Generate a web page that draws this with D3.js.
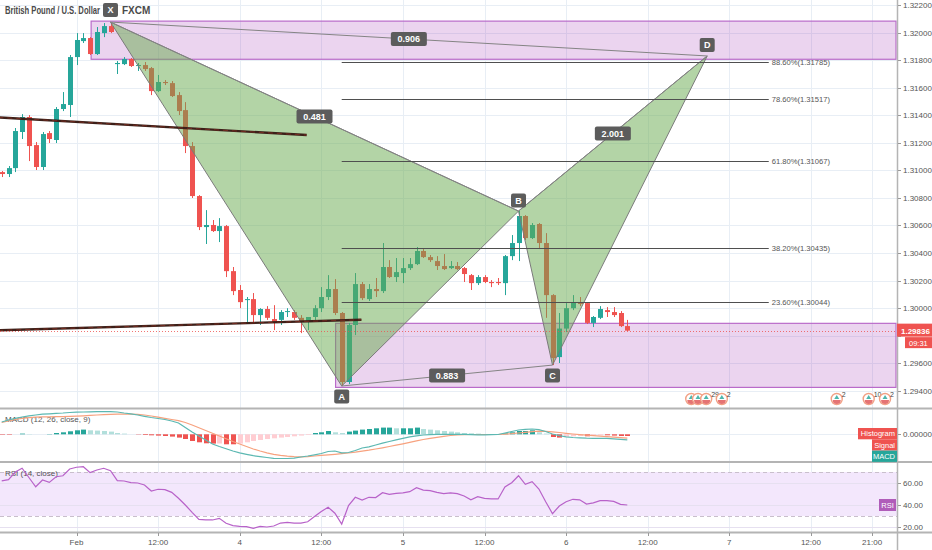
<!DOCTYPE html>
<html><head><meta charset="utf-8">
<script src="https://cdn.jsdelivr.net/npm/d3@7"></script>
<style>
html,body{margin:0;padding:0;background:#fff;}
svg{display:block;font-family:"Liberation Sans",Arial,sans-serif;}
</style></head><body>
<svg id="c" width="932" height="550"></svg>
<script>
// ---------------- DATA ----------------
const title = "British Pound / U.S. Dollar";
const source = "FXCM";
const firstHour = -11; // first candle, hours relative to Feb 3 00:00 (1h candles)
const opens = [1.30987,1.30973,1.31016,1.31278,1.31387,1.31183,1.31024,1.31270,1.31220,1.31445,
1.31474,1.31822,1.31938,1.31960,1.31844,1.31996,1.32047,1.31771,1.31771,1.31808,
1.31757,1.31764,1.31742,1.31575,1.31641,1.31633,1.31546,1.31437,1.31176,1.30813,
1.30588,1.30603,1.30559,1.30595,1.30268,1.30131,1.30058,1.30065,1.29949,1.29993,
1.29920,1.29914,1.29971,1.29971,1.29929,1.29899,1.29935,1.29999,1.30080,1.30138,
1.29964,1.29463,1.29877,1.30174,1.30065,1.30138,1.30123,1.30298,1.30225,1.30254,
1.30290,1.30319,1.30414,1.30370,1.30341,1.30305,1.30290,1.30305,1.30290,1.30239,
1.30181,1.30225,1.30189,1.30189,1.30181,1.30377,1.30472,1.30668,1.30508,1.30610,
1.30472,1.30094,1.29644,1.29851,1.29999,1.30043,1.30036,1.29892,1.29929,1.29985,
1.29971,1.29964,1.29869];
const highs = [1.30995,1.31031,1.31307,1.31408,1.31401,1.31205,1.31278,1.31285,1.31459,1.31568,
1.31837,1.31996,1.31996,1.31967,1.32040,1.32069,1.32076,1.31793,1.31822,1.31815,
1.31779,1.31786,1.31750,1.31692,1.31655,1.31648,1.31568,1.31495,1.31205,1.30820,
1.30711,1.30639,1.30653,1.30603,1.30298,1.30167,1.30080,1.30109,1.29999,1.30014,
1.30021,1.29985,1.29999,1.29985,1.29949,1.29935,1.30021,1.30152,1.30239,1.30210,
1.29971,1.29892,1.30254,1.30189,1.30174,1.30218,1.30472,1.30348,1.30363,1.30363,
1.30363,1.30443,1.30428,1.30385,1.30377,1.30392,1.30341,1.30334,1.30298,1.30247,
1.30239,1.30239,1.30203,1.30218,1.30385,1.30530,1.30704,1.30675,1.30617,1.30617,
1.30544,1.30101,1.29964,1.30036,1.30094,1.30080,1.30043,1.29942,1.30014,1.30007,
1.30007,1.29978,1.29914];
const lows = [1.30951,1.30951,1.30987,1.31227,1.31067,1.31002,1.31002,1.31198,1.31198,1.31430,
1.31387,1.31764,1.31924,1.31837,1.31837,1.31967,1.31996,1.31699,1.31764,1.31750,
1.31721,1.31721,1.31546,1.31568,1.31619,1.31532,1.31401,1.31125,1.30799,1.30566,
1.30465,1.30552,1.30479,1.30225,1.30094,1.29999,1.29892,1.29892,1.29877,1.29914,
1.29840,1.29877,1.29935,1.29914,1.29818,1.29840,1.29914,1.29971,1.30058,1.29949,
1.29434,1.29448,1.29804,1.30058,1.30051,1.30080,1.30109,1.30218,1.30189,1.30181,
1.30276,1.30312,1.30363,1.30334,1.30276,1.30276,1.30283,1.30276,1.30189,1.30131,
1.30167,1.30181,1.30152,1.30167,1.30094,1.30348,1.30341,1.30494,1.30501,1.30428,
1.29929,1.29586,1.29601,1.29826,1.29985,1.30014,1.29884,1.29862,1.29920,1.29935,
1.29935,1.29862,1.29833];
const closes = [1.30973,1.31016,1.31285,1.31387,1.31176,1.31024,1.31263,1.31227,1.31445,1.31481,
1.31822,1.31946,1.31960,1.31844,1.32004,1.32047,1.32004,1.31779,1.31808,1.31757,
1.31764,1.31735,1.31575,1.31641,1.31633,1.31539,1.31430,1.31176,1.30813,1.30588,
1.30603,1.30559,1.30595,1.30268,1.30123,1.30043,1.30065,1.29949,1.29993,1.29929,
1.29899,1.29971,1.29978,1.29929,1.29899,1.29935,1.29999,1.30080,1.30138,1.29964,
1.29463,1.29877,1.30174,1.30072,1.30138,1.30123,1.30298,1.30225,1.30261,1.30290,
1.30319,1.30414,1.30370,1.30348,1.30305,1.30283,1.30305,1.30283,1.30247,1.30181,
1.30225,1.30189,1.30181,1.30181,1.30377,1.30472,1.30668,1.30508,1.30603,1.30472,
1.30094,1.29637,1.29851,1.29999,1.30043,1.30029,1.29892,1.29935,1.29993,1.29971,
1.29949,1.29869,1.29836];

const macdLine = [0.00123,0.00143,0.00160,0.00173,0.00185,0.00193,0.00201,0.00205,0.00210,0.00213,
0.00218,0.00221,0.00223,0.00225,0.00226,0.00227,0.00227,0.00223,0.00213,0.00205,
0.00193,0.00180,0.00168,0.00158,0.00148,0.00133,0.00113,0.00068,0.00023,-0.00017,
-0.00057,-0.00097,-0.00122,-0.00145,-0.00167,-0.00185,-0.00200,-0.00214,-0.00223,-0.00232,
-0.00240,-0.00242,-0.00242,-0.00239,-0.00227,-0.00217,-0.00205,-0.00192,-0.00172,-0.00167,
-0.00185,-0.00182,-0.00162,-0.00137,-0.00125,-0.00107,-0.00089,-0.00072,-0.00055,-0.00040,
-0.00025,-0.00015,-0.00007,-0.00003,0.00000,0.00000,0.00000,0.00000,-0.00001,-0.00003,
-0.00005,-0.00005,-0.00004,-0.00002,0.00013,0.00028,0.00043,0.00050,0.00053,0.00046,
0.00028,0.00003,-0.00014,-0.00025,-0.00032,-0.00036,-0.00039,-0.00040,-0.00040,-0.00041,
-0.00045,-0.00050,-0.00055];
const signalLine = [0.00118,0.00135,0.00150,0.00160,0.00167,0.00171,0.00174,0.00175,0.00176,0.00177,
0.00179,0.00182,0.00185,0.00189,0.00193,0.00196,0.00199,0.00201,0.00202,0.00202,
0.00199,0.00193,0.00183,0.00171,0.00160,0.00148,0.00136,0.00118,0.00093,0.00065,
0.00038,0.00010,-0.00017,-0.00045,-0.00072,-0.00097,-0.00122,-0.00147,-0.00167,-0.00185,
-0.00200,-0.00211,-0.00219,-0.00224,-0.00225,-0.00223,-0.00217,-0.00211,-0.00205,-0.00200,
-0.00194,-0.00187,-0.00179,-0.00169,-0.00159,-0.00147,-0.00135,-0.00122,-0.00109,-0.00095,
-0.00080,-0.00065,-0.00052,-0.00040,-0.00030,-0.00020,-0.00012,-0.00007,-0.00003,-0.00002,
-0.00002,-0.00002,-0.00002,-0.00002,0.00001,0.00006,0.00013,0.00020,0.00027,0.00031,
0.00030,0.00025,0.00018,0.00010,0.00003,-0.00003,-0.00009,-0.00014,-0.00019,-0.00024,
-0.00029,-0.00034,-0.00039];
const histogram = [-0.00005,-0.00005,0.00000,0.00007,0.00003,0.00000,0.00000,0.00003,0.00013,0.00020,
0.00030,0.00040,0.00047,0.00040,0.00037,0.00033,0.00027,0.00013,0.00007,0.00000,
-0.00003,-0.00007,-0.00010,-0.00013,-0.00017,-0.00023,-0.00033,-0.00047,-0.00067,-0.00080,
-0.00090,-0.00093,-0.00092,-0.00100,-0.00100,-0.00093,-0.00080,-0.00067,-0.00057,-0.00047,
-0.00040,-0.00033,-0.00027,-0.00020,-0.00013,-0.00007,0.00013,0.00020,0.00033,0.00020,
0.00013,0.00027,0.00037,0.00047,0.00053,0.00060,0.00067,0.00067,0.00060,0.00060,
0.00060,0.00067,0.00053,0.00047,0.00040,0.00033,0.00027,0.00020,0.00013,0.00010,
0.00007,0.00003,0.00003,0.00000,0.00010,0.00020,0.00033,0.00033,0.00040,0.00020,
0.00007,-0.00027,-0.00033,-0.00023,-0.00020,-0.00017,-0.00020,-0.00013,-0.00010,-0.00010,
-0.00013,-0.00017,-0.00017];
const rsiValues = [62,63,70,73.4,65,56.6,62.7,60.6,65.7,66.6,
72.7,74.3,74.8,69.4,71.8,73.4,71.2,62.1,61.8,60.3,
60,58.2,52.7,54.3,54,51.5,46.1,40,33.3,27,
26.4,26.4,27.9,23.4,21.2,20.6,20.4,18.8,20.6,20,
20.9,23.6,24.2,23.5,23.5,24.8,29.5,34,38,32.5,
22.7,39.4,47,44.5,47,46.8,51.2,49.7,50.6,51,
52.1,55.7,53.6,53,51.5,50.3,51,50.3,48.2,44.8,
47.5,46.1,45.6,45.5,56.4,60.3,66.6,58.8,61.2,54.5,
43,32.1,39.1,43,45.2,44.7,40.9,42,43.9,43.9,
43.3,40.6,40];

const priceTicks = [1.322,1.320,1.318,1.316,1.314,1.312,1.310,1.308,1.306,1.304,1.302,1.300,1.298,1.296,1.294];
const timeTickHours = [0,12,24,36,48,60,72,84,96,108,117];
const timeTickLabels = ["Feb","12:00","4","12:00","5","12:00","6","12:00","7","12:00","21:00"];
const rsiTicks = [60,40,20];
const rsiBand = [70,30];

// XABCD harmonic pattern
const patternNames = ["X","A","B","C","D"];
const patternHours = [5,39,65,70,92.75];
const patternPrices = [1.32076,1.29434,1.30704,1.29586,1.31830];
const ratioPairs = [[0,2],[0,4],[1,3],[2,4]];
const ratioLabels = ["0.481","0.906","0.883","2.001"];
// Fibonacci retracement levels
const fibLevels = ["23.60%","38.20%","61.80%","78.60%","88.60%"];
const fibPrices = [1.30044,1.30435,1.31067,1.31517,1.31785];
const fibHours = [39,101.8];
// zones (rectangles, extended right)
const zoneStartHours = [2.15,38.1];
const zoneHighs = [1.32083,1.29889];
const zoneLows = [1.31806,1.29424];
// trend lines
const trendStartHours = [-11.5,-11.5];
const trendStartPrices = [1.31384,1.29838];
const trendEndHours = [33.85,41.9];
const trendEndPrices = [1.31256,1.29915];
const lastPrice = 1.29836;
const countdown = "09:31";
// economic event markers
const eventHours = [90.4,91.4,92.6,94.9,111.8,116.5,118.9];
const eventCounts = ["","","29","2","2","10","2"];

// ---------------- LAYOUT ----------------
const svg = d3.select("#c");
const axisX = 897;
const mainBottom = 408, macdTop = 409, macdBottom = 462, rsiTop = 463, rsiBottom = 532;
const x = d3.scaleLinear().domain([-11.25, 120.66]).range([0, axisX]);
const y = d3.scaleLinear().domain([1.294, 1.322]).range([390.7, 5]);
const ym = d3.scaleLinear().domain([-0.0025, 0.0025]).range([459.3, 409.3]);
const yr = d3.scaleLinear().domain([20, 70]).range([527, 472]);
const hourOf = i => firstHour + i;
const n = opens.length;
const idx = d3.range(n);

const defs = svg.append("defs");
function clip(id, y0, y1) {
  defs.append("clipPath").attr("id", id).append("rect")
    .attr("x", 0).attr("y", y0).attr("width", axisX).attr("height", y1 - y0);
}
clip("cm", 0, mainBottom); clip("cmacd", macdTop, macdBottom); clip("crsi", rsiTop, rsiBottom);

svg.append("rect").attr("width", 932).attr("height", 550).attr("fill", "#fff");

const gridC = "#e8eef5";
svg.append("g").selectAll("line").data(timeTickHours).join("line")
  .attr("x1", d => Math.round(x(d)) + 0.5).attr("x2", d => Math.round(x(d)) + 0.5)
  .attr("y1", 0).attr("y2", rsiBottom).attr("stroke", gridC);
svg.append("g").selectAll("line").data(priceTicks).join("line")
  .attr("x1", 0).attr("x2", axisX).attr("y1", d => Math.round(y(d)) + 0.5).attr("y2", d => Math.round(y(d)) + 0.5)
  .attr("stroke", gridC);

// ---------------- MAIN PANE ----------------
const gm = svg.append("g").attr("clip-path", "url(#cm)");
gm.selectAll("rect.zone").data(zoneStartHours).join("rect").attr("class", "zone")
  .attr("x", d => x(d)).attr("width", (d) => axisX - 1 - x(d))
  .attr("y", (d, i) => y(zoneHighs[i])).attr("height", (d, i) => y(zoneLows[i]) - y(zoneHighs[i]))
  .attr("fill", "rgba(156,39,176,0.2)").attr("stroke", "#b96bc9").attr("stroke-width", 1.2);

const up = "#26a69a", dn = "#ef5350";
const cg = gm.append("g");
cg.selectAll("line").data(idx).join("line")
  .attr("x1", i => Math.round(x(hourOf(i))) + 0.5).attr("x2", i => Math.round(x(hourOf(i))) + 0.5)
  .attr("y1", i => y(highs[i])).attr("y2", i => y(lows[i]))
  .attr("stroke", i => closes[i] >= opens[i] ? up : dn).attr("stroke-width", 1);
cg.selectAll("rect").data(idx).join("rect")
  .attr("x", i => Math.round(x(hourOf(i))) - 2).attr("width", 5)
  .attr("y", i => y(Math.max(opens[i], closes[i])))
  .attr("height", i => Math.max(1, Math.abs(y(opens[i]) - y(closes[i]))))
  .attr("fill", i => closes[i] >= opens[i] ? up : dn);

const P = patternNames.map((nm, i) => [x(patternHours[i]), y(patternPrices[i])]);
const tri = [[0,1,2],[2,3,4]];
gm.selectAll("path.tri").data(tri).join("path").attr("class", "tri")
  .attr("d", t => d3.line()(t.map(k => P[k])) + "Z")
  .attr("fill", "rgba(104,170,78,0.5)").attr("stroke", "#7a7a7a").attr("stroke-width", 1);
gm.selectAll("line.rl").data(ratioPairs).join("line").attr("class", "rl")
  .attr("x1", d => P[d[0]][0]).attr("y1", d => P[d[0]][1])
  .attr("x2", d => P[d[1]][0]).attr("y2", d => P[d[1]][1])
  .attr("stroke", "#848484").attr("stroke-width", 1);

gm.selectAll("line.fib").data(fibPrices).join("line").attr("class", "fib")
  .attr("x1", x(fibHours[0])).attr("x2", x(fibHours[1]))
  .attr("y1", d => Math.round(y(d)) + 0.5).attr("y2", d => Math.round(y(d)) + 0.5)
  .attr("stroke", "#4f4f4f").attr("stroke-width", 1);
gm.selectAll("text.fib").data(fibPrices).join("text").attr("class", "fib")
  .attr("x", x(fibHours[1]) + 3).attr("y", d => y(d) + 3)
  .attr("font-size", 7.6).attr("fill", "#555")
  .text((d, i) => `${fibLevels[i]}(${d.toFixed(5)})`);

trendStartHours.forEach((h, i) => {
  gm.append("line").attr("x1", x(h)).attr("y1", y(trendStartPrices[i]))
    .attr("x2", x(trendEndHours[i])).attr("y2", y(trendEndPrices[i]))
    .attr("stroke", "#3b2019").attr("stroke-width", 2.4);
  gm.append("line").attr("x1", x(h)).attr("y1", y(trendStartPrices[i]))
    .attr("x2", x(trendEndHours[i])).attr("y2", y(trendEndPrices[i]))
    .attr("stroke", "#8d2f23").attr("stroke-width", 0.7).attr("stroke-dasharray", "5,4");
});

gm.append("line").attr("x1", 0).attr("x2", axisX).attr("y1", Math.round(y(lastPrice)) + 0.5).attr("y2", Math.round(y(lastPrice)) + 0.5)
  .attr("stroke", "#ef5350").attr("stroke-width", 1).attr("stroke-dasharray", "1,2").attr("opacity", 0.8);

// title (drawn before the X label, which sits over it as in the original)
svg.append("text").attr("x", 5).attr("y", 14).attr("font-size", 10).attr("font-weight", 600).attr("fill", "#4a4a4a")
  .attr("textLength", 95).attr("lengthAdjust", "spacingAndGlyphs").text(title);
svg.append("text").attr("x", 122).attr("y", 14).attr("font-size", 10).attr("font-weight", 600).attr("fill", "#4a4a4a").text(source);

const lblFill = "#5c5c5c";
const offs = [-12, 10.5, -10.5, 10.5, -11];
patternNames.forEach((nm, i) => {
  const cx = P[i][0], cy = Math.max(10, P[i][1] + offs[i]);
  gm.append("rect").attr("x", cx - 7.5).attr("y", cy - 7).attr("width", 15).attr("height", 14).attr("rx", 2).attr("fill", lblFill);
  gm.append("text").attr("x", cx).attr("y", cy + 3.3).attr("text-anchor", "middle").attr("font-size", 9)
    .attr("font-weight", "bold").attr("fill", "#fff").text(nm);
});
ratioPairs.forEach((pr, i) => {
  const cx = (P[pr[0]][0] + P[pr[1]][0]) / 2, cy = (P[pr[0]][1] + P[pr[1]][1]) / 2;
  gm.append("rect").attr("x", cx - 18).attr("y", cy - 7).attr("width", 36).attr("height", 14).attr("rx", 2).attr("fill", lblFill);
  gm.append("text").attr("x", cx).attr("y", cy + 3.3).attr("text-anchor", "middle").attr("font-size", 9)
    .attr("font-weight", "bold").attr("fill", "#fff").text(ratioLabels[i]);
});

const ev = svg.append("g");
eventHours.forEach((h, i) => {
  const cx = x(h), cy = 399;
  ev.append("circle").attr("cx", cx).attr("cy", cy).attr("r", 5.5).attr("fill", "#fff").attr("stroke", "#f2a084").attr("stroke-width", 1.4);
  ev.append("path").attr("d", `M${cx-4},${cy+1}A4,4 0 0 0 ${cx+4},${cy+1}Z`).attr("fill", "#e57373");
  ev.append("path").attr("d", `M${cx-2.5},${cy}L${cx},${cy-4}L${cx+2.5},${cy}Z`).attr("fill", "#4db6ac");
  if (eventCounts[i]) ev.append("text").attr("x", cx + 5).attr("y", cy - 2).attr("font-size", 7).attr("fill", "#444").text(eventCounts[i]);
});

// ---------------- MACD PANE ----------------
svg.append("line").attr("x1", 0).attr("x2", axisX).attr("y1", Math.round(ym(0)) + 0.5).attr("y2", Math.round(ym(0)) + 0.5).attr("stroke", gridC);
svg.append("text").attr("x", 5).attr("y", 422).attr("font-size", 8).attr("fill", "#555").text("MACD (12, 26, close, 9)");
const gmacd = svg.append("g").attr("clip-path", "url(#cmacd)");
gmacd.selectAll("rect").data(idx).join("rect")
  .attr("x", i => Math.round(x(hourOf(i))) - 2).attr("width", 5)
  .attr("y", i => Math.min(ym(0), ym(histogram[i])))
  .attr("height", i => Math.abs(ym(histogram[i]) - ym(0)))
  .attr("fill", i => {
    const v = histogram[i], p = i > 0 ? histogram[i - 1] : 0;
    if (v >= 0) return v >= p ? "#26a69a" : "#b2dfdb";
    return v <= p ? "#ef5350" : "#ffcdd2";
  });
const lineM = d3.line().x(i => x(hourOf(i)));
gmacd.append("path").attr("d", lineM.y(i => ym(signalLine[i]))(idx)).attr("fill", "none").attr("stroke", "#f7a27f").attr("stroke-width", 1.2);
gmacd.append("path").attr("d", lineM.y(i => ym(macdLine[i]))(idx)).attr("fill", "none").attr("stroke", "#5cb8b2").attr("stroke-width", 1.2);

// ---------------- RSI PANE ----------------
svg.append("rect").attr("x", 0).attr("width", axisX).attr("y", yr(rsiBand[0])).attr("height", yr(rsiBand[1]) - yr(rsiBand[0])).attr("fill", "#f3e7fc");
svg.append("g").selectAll("line").data(rsiTicks).join("line")
  .attr("x1", 0).attr("x2", axisX).attr("y1", d => Math.round(yr(d)) + 0.5).attr("y2", d => Math.round(yr(d)) + 0.5)
  .attr("stroke", "#e6e0f0");
svg.append("g").selectAll("line").data(rsiBand).join("line")
  .attr("x1", 0).attr("x2", axisX).attr("y1", d => Math.round(yr(d)) + 0.5).attr("y2", d => Math.round(yr(d)) + 0.5)
  .attr("stroke", "#c9bfcc").attr("stroke-dasharray", "4,3");
svg.append("text").attr("x", 5).attr("y", 476).attr("font-size", 8).attr("fill", "#555").text("RSI (14, close)");
svg.append("g").attr("clip-path", "url(#crsi)").append("path")
  .attr("d", d3.line().x(i => x(hourOf(i))).y(i => yr(rsiValues[i]))(idx))
  .attr("fill", "none").attr("stroke", "#b862c9").attr("stroke-width", 1.2);

// ---------------- SEPARATORS & AXES ----------------
[mainBottom + 0.5, macdBottom, rsiBottom + 0.5].forEach(v => {
  svg.append("line").attr("x1", 0).attr("x2", 932).attr("y1", v).attr("y2", v).attr("stroke", "#b4b4b4").attr("stroke-width", 2);
});
svg.append("line").attr("x1", axisX + 0.5).attr("x2", axisX + 0.5).attr("y1", 0).attr("y2", 550).attr("stroke", "#b4b4b4").attr("stroke-width", 1.5);

const axFont = 8, axCol = "#555";
const lp = y(lastPrice);
const visibleTicks = priceTicks.filter(d => Math.abs(y(d) - lp) > 9);
const pa = svg.append("g");
pa.selectAll("line").data(priceTicks).join("line")
  .attr("x1", axisX + 1).attr("x2", axisX + 4).attr("y1", d => Math.round(y(d)) + 0.5).attr("y2", d => Math.round(y(d)) + 0.5).attr("stroke", "#999");
pa.selectAll("text").data(visibleTicks).join("text")
  .attr("x", axisX + 6).attr("y", d => y(d) + 3).attr("font-size", axFont).attr("fill", axCol)
  .text(d => d.toFixed(5));
svg.append("line").attr("x1", axisX + 1).attr("x2", axisX + 4).attr("y1", Math.round(ym(0)) + 0.5).attr("y2", Math.round(ym(0)) + 0.5).attr("stroke", "#999");
svg.append("text").attr("x", axisX + 6).attr("y", ym(0) + 3).attr("font-size", axFont).attr("fill", axCol).text("0.00000");
svg.append("g").selectAll("text").data(rsiTicks).join("text")
  .attr("x", axisX + 6).attr("y", d => yr(d) + 3).attr("font-size", axFont).attr("fill", axCol).text(d => d.toFixed(2));
svg.append("g").selectAll("line").data(rsiTicks).join("line")
  .attr("x1", axisX + 1).attr("x2", axisX + 4).attr("y1", d => Math.round(yr(d)) + 0.5).attr("y2", d => Math.round(yr(d)) + 0.5).attr("stroke", "#999");
svg.append("g").selectAll("text").data(timeTickHours).join("text")
  .attr("x", d => x(d)).attr("y", 545).attr("text-anchor", "middle").attr("font-size", axFont).attr("fill", axCol)
  .text((d, i) => timeTickLabels[i]);
svg.append("g").selectAll("line").data(timeTickHours).join("line")
  .attr("x1", d => Math.round(x(d)) + 0.5).attr("x2", d => Math.round(x(d)) + 0.5).attr("y1", 533).attr("y2", 536).attr("stroke", "#999");

// last price label
svg.append("rect").attr("x", axisX).attr("y", lp - 7).attr("width", 35).attr("height", 13).attr("fill", "#ef5350");
svg.append("text").attr("x", axisX + 4).attr("y", lp + 3).attr("font-size", axFont).attr("font-weight", "bold").attr("fill", "#fff").text(lastPrice.toFixed(5));
svg.append("rect").attr("x", axisX + 8).attr("y", lp + 6.5).attr("width", 27).attr("height", 11).attr("fill", "#ef5350");
svg.append("text").attr("x", axisX + 12).attr("y", lp + 15).attr("font-size", 7.5).attr("fill", "#fff").text(countdown);

// macd legend boxes
const mb = [["Histogram", "#ef5350", 858], ["Signal", "#ef5350", 872], ["MACD", "#26a69a", 872]];
mb.forEach((b, k) => {
  const yy = 428 + k * 11.3;
  svg.append("rect").attr("x", b[2]).attr("y", yy).attr("width", axisX - b[2]).attr("height", 11.3).attr("fill", b[1]);
  svg.append("text").attr("x", axisX - 2).attr("y", yy + 8.3).attr("text-anchor", "end").attr("font-size", 7.5).attr("fill", "#fff").text(b[0]);
});
const rl = yr(rsiValues[n - 1]);
svg.append("rect").attr("x", 879).attr("y", rl - 6).attr("width", 17).attr("height", 12).attr("fill", "#b05cb9");
svg.append("text").attr("x", 887.5).attr("y", rl + 3).attr("text-anchor", "middle").attr("font-size", 7.5).attr("fill", "#fff").text("RSI");
</script>
</body></html>
